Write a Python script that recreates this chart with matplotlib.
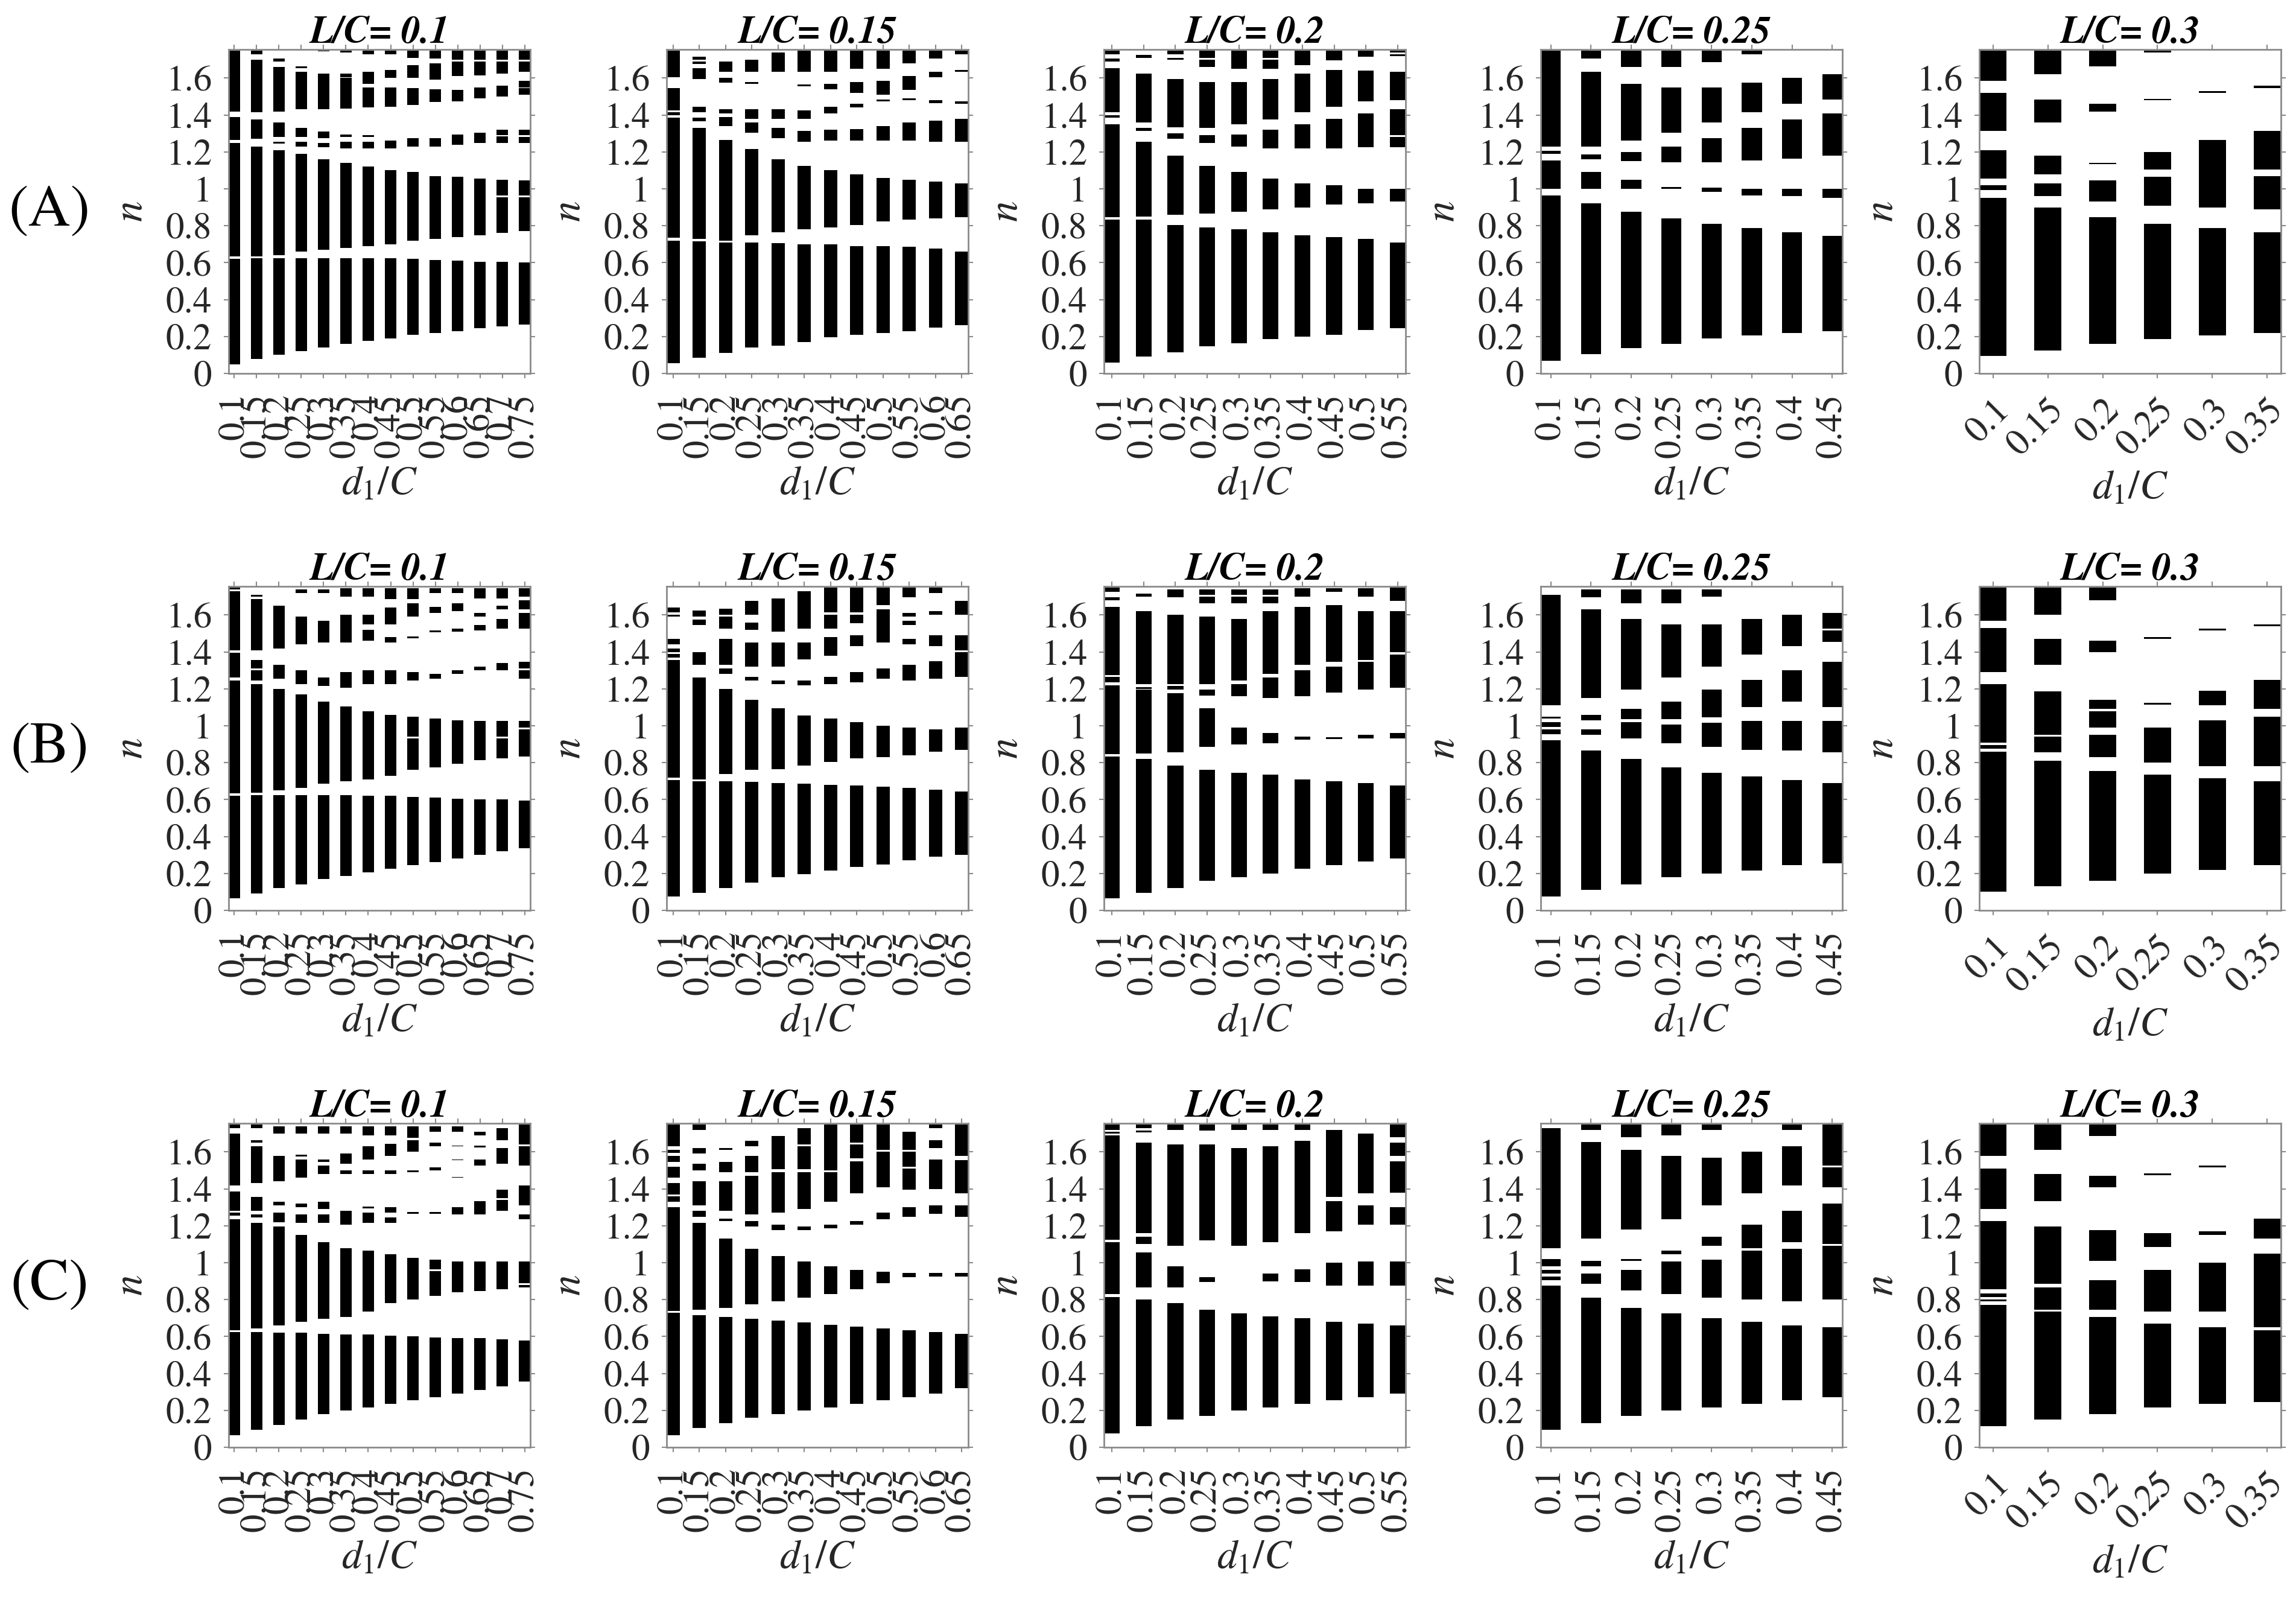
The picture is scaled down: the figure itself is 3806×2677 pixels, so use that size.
import numpy as np
import matplotlib.pyplot as plt

plt.rcParams['font.family'] = ['STIXGeneral', 'Liberation Serif', 'DejaVu Serif']
plt.rcParams['mathtext.fontset'] = 'stix'

# d1/C values used on the x axis of each column (L/C = 0.1 ... 0.3)
d_lc01 = [0.1, 0.15, 0.2, 0.25, 0.3, 0.35, 0.4, 0.45, 0.5, 0.55, 0.6, 0.65, 0.7, 0.75]
d_lc015 = [0.1, 0.15, 0.2, 0.25, 0.3, 0.35, 0.4, 0.45, 0.5, 0.55, 0.6, 0.65]
d_lc02 = [0.1, 0.15, 0.2, 0.25, 0.3, 0.35, 0.4, 0.45, 0.5, 0.55]
d_lc025 = [0.1, 0.15, 0.2, 0.25, 0.3, 0.35, 0.4, 0.45]
d_lc03 = [0.1, 0.15, 0.2, 0.25, 0.3, 0.35]
lc_labels = ['0.1', '0.15', '0.2', '0.25', '0.3']
row_labels = ['(A)', '(B)', '(C)']

# black bands (n_low, n_high) for every d1/C value, one list per panel
A1 = [
    [(0.05, 0.62), (0.635, 1.25), (1.265, 1.39), (1.42, 1.75)],
    [(0.08, 0.625), (0.635, 1.23), (1.27, 1.375), (1.415, 1.70), (1.73, 1.75)],
    [(0.10, 0.625), (0.64, 1.21), (1.245, 1.255), (1.28, 1.36), (1.42, 1.66), (1.69, 1.705)],
    [(0.12, 0.625), (0.66, 1.19), (1.23, 1.255), (1.28, 1.33), (1.43, 1.635), (1.655, 1.665)],
    [(0.14, 0.625), (0.67, 1.16), (1.225, 1.25), (1.275, 1.31), (1.43, 1.625), (1.745, 1.75)],
    [(0.16, 0.625), (0.68, 1.14), (1.22, 1.255), (1.28, 1.295), (1.435, 1.60), (1.605, 1.625), (1.74, 1.75)],
    [(0.175, 0.625), (0.69, 1.12), (1.22, 1.255), (1.28, 1.29), (1.44, 1.55), (1.57, 1.635), (1.73, 1.75)],
    [(0.19, 0.625), (0.70, 1.10), (1.22, 1.26), (1.445, 1.55), (1.60, 1.645), (1.73, 1.75)],
    [(0.21, 0.62), (0.72, 1.09), (1.23, 1.275), (1.455, 1.545), (1.60, 1.67), (1.71, 1.75)],
    [(0.22, 0.615), (0.73, 1.07), (1.23, 1.275), (1.47, 1.54), (1.59, 1.68), (1.705, 1.75)],
    [(0.23, 0.61), (0.74, 1.065), (1.24, 1.295), (1.475, 1.535), (1.61, 1.69), (1.70, 1.75)],
    [(0.245, 0.605), (0.75, 1.055), (1.25, 1.305), (1.49, 1.55), (1.615, 1.69), (1.70, 1.75)],
    [(0.255, 0.605), (0.76, 0.955), (0.965, 1.05), (1.25, 1.285), (1.29, 1.32), (1.50, 1.56), (1.625, 1.69), (1.70, 1.75)],
    [(0.265, 0.60), (0.77, 0.955), (0.965, 1.045), (1.25, 1.28), (1.29, 1.32), (1.51, 1.545), (1.55, 1.585), (1.635, 1.69), (1.70, 1.75)],
]
A2 = [
    [(0.055, 0.72), (0.735, 1.385), (1.40, 1.415), (1.425, 1.545), (1.605, 1.75)],
    [(0.085, 0.715), (0.73, 1.33), (1.365, 1.385), (1.415, 1.445), (1.595, 1.655), (1.675, 1.69), (1.70, 1.715)],
    [(0.11, 0.71), (0.72, 1.265), (1.34, 1.39), (1.41, 1.43), (1.575, 1.60), (1.635, 1.69)],
    [(0.14, 0.71), (0.75, 1.215), (1.305, 1.36), (1.38, 1.43), (1.57, 1.58), (1.635, 1.70)],
    [(0.15, 0.705), (0.765, 1.16), (1.275, 1.33), (1.38, 1.43), (1.635, 1.74)],
    [(0.17, 0.70), (0.78, 1.125), (1.255, 1.315), (1.38, 1.425), (1.555, 1.565), (1.635, 1.75)],
    [(0.195, 0.70), (0.79, 1.10), (1.26, 1.32), (1.41, 1.445), (1.54, 1.57), (1.635, 1.75)],
    [(0.21, 0.69), (0.805, 1.08), (1.26, 1.325), (1.44, 1.46), (1.52, 1.58), (1.65, 1.75)],
    [(0.22, 0.69), (0.825, 1.06), (1.26, 1.34), (1.475, 1.485), (1.51, 1.585), (1.65, 1.75)],
    [(0.23, 0.685), (0.835, 1.05), (1.26, 1.36), (1.48, 1.49), (1.535, 1.61), (1.68, 1.75)],
    [(0.25, 0.675), (0.84, 1.04), (1.255, 1.37), (1.465, 1.48), (1.605, 1.635), (1.705, 1.75)],
    [(0.26, 0.66), (0.845, 1.03), (1.255, 1.38), (1.46, 1.475), (1.635, 1.645), (1.73, 1.75)],
]
A3 = [
    [(0.06, 0.835), (0.845, 1.35), (1.385, 1.40), (1.415, 1.655), (1.69, 1.705), (1.73, 1.75)],
    [(0.09, 0.835), (0.85, 1.255), (1.315, 1.33), (1.36, 1.625), (1.71, 1.725)],
    [(0.113, 0.805), (0.86, 1.18), (1.27, 1.30), (1.335, 1.595), (1.70, 1.71), (1.73, 1.75)],
    [(0.147, 0.79), (0.865, 1.125), (1.25, 1.29), (1.33, 1.58), (1.66, 1.70), (1.71, 1.75)],
    [(0.165, 0.78), (0.875, 1.09), (1.23, 1.295), (1.35, 1.58), (1.65, 1.75)],
    [(0.185, 0.765), (0.89, 1.055), (1.22, 1.32), (1.375, 1.595), (1.65, 1.70), (1.71, 1.75)],
    [(0.20, 0.75), (0.90, 1.03), (1.22, 1.35), (1.415, 1.625), (1.67, 1.75)],
    [(0.21, 0.74), (0.915, 1.02), (1.22, 1.38), (1.445, 1.645), (1.695, 1.75)],
    [(0.235, 0.73), (0.92, 1.0), (1.225, 1.41), (1.475, 1.64), (1.715, 1.75)],
    [(0.245, 0.71), (0.93, 1.0), (1.225, 1.28), (1.29, 1.43), (1.48, 1.635), (1.72, 1.73), (1.74, 1.75)],
]
A4 = [
    [(0.07, 0.965), (1.0, 1.155), (1.19, 1.205), (1.23, 1.75)],
    [(0.105, 0.92), (1.0, 1.09), (1.16, 1.185), (1.23, 1.635), (1.705, 1.75)],
    [(0.137, 0.877), (1.0, 1.05), (1.15, 1.20), (1.26, 1.57), (1.66, 1.75)],
    [(0.16, 0.84), (1.0, 1.01), (1.145, 1.23), (1.305, 1.55), (1.66, 1.75)],
    [(0.19, 0.81), (0.985, 1.005), (1.145, 1.275), (1.36, 1.55), (1.685, 1.75)],
    [(0.205, 0.787), (0.965, 1.0), (1.155, 1.33), (1.415, 1.575), (1.73, 1.75)],
    [(0.22, 0.765), (0.96, 1.0), (1.165, 1.375), (1.46, 1.60)],
    [(0.23, 0.745), (0.95, 1.0), (1.18, 1.41), (1.485, 1.62)],
]
A5 = [
    [(0.095, 0.95), (0.995, 1.02), (1.055, 1.21), (1.315, 1.52), (1.585, 1.75)],
    [(0.125, 0.90), (0.96, 1.03), (1.08, 1.18), (1.36, 1.485), (1.62, 1.75)],
    [(0.16, 0.847), (0.93, 1.045), (1.135, 1.142), (1.42, 1.46), (1.665, 1.75)],
    [(0.185, 0.81), (0.91, 1.065), (1.105, 1.20), (1.482, 1.488), (1.74, 1.75)],
    [(0.205, 0.787), (0.90, 1.265), (1.52, 1.53)],
    [(0.22, 0.765), (0.89, 1.07), (1.105, 1.315), (1.545, 1.56)],
]

B1 = [
    [(0.065, 0.62), (0.635, 1.245), (1.26, 1.395), (1.41, 1.73), (1.74, 1.75)],
    [(0.09, 0.625), (0.636, 1.225), (1.245, 1.30), (1.31, 1.355), (1.41, 1.685), (1.70, 1.71)],
    [(0.12, 0.625), (0.65, 1.20), (1.255, 1.33), (1.42, 1.65)],
    [(0.14, 0.625), (0.665, 1.17), (1.225, 1.30), (1.44, 1.59), (1.72, 1.74)],
    [(0.17, 0.625), (0.685, 1.13), (1.215, 1.26), (1.45, 1.57), (1.72, 1.74)],
    [(0.185, 0.625), (0.70, 1.105), (1.205, 1.29), (1.45, 1.60), (1.70, 1.745)],
    [(0.205, 0.62), (0.71, 1.08), (1.225, 1.30), (1.46, 1.52), (1.55, 1.60), (1.70, 1.745)],
    [(0.225, 0.62), (0.73, 1.06), (1.225, 1.30), (1.45, 1.48), (1.55, 1.64), (1.685, 1.745)],
    [(0.245, 0.615), (0.76, 0.93), (0.94, 1.05), (1.245, 1.29), (1.475, 1.485), (1.59, 1.665), (1.685, 1.745)],
    [(0.26, 0.61), (0.775, 1.04), (1.255, 1.28), (1.505, 1.515), (1.61, 1.645), (1.72, 1.745)],
    [(0.28, 0.605), (0.795, 1.03), (1.28, 1.30), (1.51, 1.525), (1.62, 1.665), (1.72, 1.745)],
    [(0.30, 0.60), (0.815, 1.025), (1.30, 1.32), (1.515, 1.545), (1.59, 1.61), (1.69, 1.745)],
    [(0.32, 0.60), (0.825, 0.93), (0.94, 1.025), (1.30, 1.34), (1.525, 1.58), (1.63, 1.65), (1.69, 1.745)],
    [(0.335, 0.595), (0.835, 0.98), (0.99, 1.025), (1.255, 1.30), (1.31, 1.345), (1.525, 1.61), (1.63, 1.68), (1.70, 1.745)],
]
B2 = [
    [(0.075, 0.705), (0.72, 1.355), (1.37, 1.39), (1.40, 1.42), (1.44, 1.47), (1.59, 1.60), (1.615, 1.64)],
    [(0.095, 0.70), (0.71, 1.26), (1.33, 1.40), (1.545, 1.575), (1.59, 1.625)],
    [(0.12, 0.70), (0.74, 1.20), (1.28, 1.31), (1.33, 1.47), (1.525, 1.59), (1.60, 1.635)],
    [(0.15, 0.695), (0.76, 1.14), (1.245, 1.265), (1.32, 1.45), (1.52, 1.56), (1.60, 1.675)],
    [(0.18, 0.69), (0.765, 1.095), (1.225, 1.245), (1.32, 1.45), (1.51, 1.69)],
    [(0.195, 0.685), (0.785, 1.055), (1.22, 1.245), (1.36, 1.45), (1.525, 1.73)],
    [(0.215, 0.68), (0.805, 1.04), (1.225, 1.265), (1.38, 1.48), (1.525, 1.60), (1.615, 1.75)],
    [(0.235, 0.675), (0.825, 1.02), (1.235, 1.29), (1.43, 1.49), (1.555, 1.60), (1.615, 1.75)],
    [(0.25, 0.67), (0.83, 1.0), (1.255, 1.31), (1.45, 1.63), (1.655, 1.75)],
    [(0.27, 0.665), (0.84, 0.99), (1.245, 1.33), (1.44, 1.47), (1.545, 1.57), (1.59, 1.61), (1.695, 1.75)],
    [(0.29, 0.655), (0.86, 0.98), (1.255, 1.35), (1.43, 1.49), (1.60, 1.62), (1.72, 1.75)],
    [(0.30, 0.645), (0.87, 0.99), (1.265, 1.40), (1.41, 1.49), (1.60, 1.675)],
]
B3 = [
    [(0.065, 0.835), (0.845, 1.22), (1.235, 1.265), (1.275, 1.645), (1.68, 1.695), (1.725, 1.75)],
    [(0.095, 0.82), (0.85, 1.195), (1.20, 1.21), (1.225, 1.62), (1.70, 1.715)],
    [(0.12, 0.785), (0.855, 1.175), (1.195, 1.215), (1.225, 1.60), (1.695, 1.74)],
    [(0.16, 0.76), (0.885, 1.095), (1.165, 1.195), (1.225, 1.59), (1.665, 1.70), (1.71, 1.74)],
    [(0.18, 0.745), (0.90, 0.99), (1.16, 1.225), (1.245, 1.58), (1.665, 1.70), (1.71, 1.74)],
    [(0.20, 0.735), (0.905, 0.96), (1.15, 1.26), (1.28, 1.62), (1.665, 1.70), (1.71, 1.74)],
    [(0.225, 0.71), (0.925, 0.94), (1.16, 1.30), (1.33, 1.645), (1.70, 1.745)],
    [(0.245, 0.70), (0.928, 0.937), (1.18, 1.32), (1.345, 1.655), (1.725, 1.745)],
    [(0.265, 0.69), (0.93, 0.95), (1.195, 1.345), (1.355, 1.62), (1.70, 1.745)],
    [(0.28, 0.675), (0.93, 0.96), (1.205, 1.385), (1.40, 1.62), (1.675, 1.75)],
]
B4 = [
    [(0.075, 0.92), (0.955, 0.98), (0.995, 1.02), (1.04, 1.05), (1.11, 1.71)],
    [(0.11, 0.865), (0.95, 0.98), (1.03, 1.06), (1.15, 1.63), (1.695, 1.74)],
    [(0.14, 0.82), (0.93, 1.02), (1.035, 1.09), (1.195, 1.58), (1.665, 1.74)],
    [(0.18, 0.775), (0.905, 1.005), (1.035, 1.13), (1.26, 1.55), (1.665, 1.74)],
    [(0.20, 0.745), (0.885, 1.015), (1.045, 1.195), (1.32, 1.55), (1.70, 1.74)],
    [(0.215, 0.725), (0.87, 1.025), (1.10, 1.25), (1.385, 1.58)],
    [(0.245, 0.705), (0.865, 1.025), (1.13, 1.30), (1.43, 1.60)],
    [(0.255, 0.69), (0.855, 1.025), (1.10, 1.345), (1.455, 1.515), (1.525, 1.61)],
]
B5 = [
    [(0.10, 0.86), (0.875, 0.895), (0.91, 1.225), (1.29, 1.53), (1.57, 1.75)],
    [(0.13, 0.81), (0.855, 0.94), (0.95, 1.185), (1.33, 1.47), (1.60, 1.75)],
    [(0.16, 0.755), (0.83, 0.95), (0.99, 1.08), (1.09, 1.14), (1.40, 1.46), (1.68, 1.75)],
    [(0.20, 0.735), (0.80, 0.99), (1.115, 1.125), (1.47, 1.48)],
    [(0.22, 0.715), (0.78, 1.03), (1.11, 1.19), (1.515, 1.525)],
    [(0.245, 0.70), (0.78, 1.05), (1.09, 1.25), (1.54, 1.55)],
]

C1 = [
    [(0.065, 0.625), (0.635, 1.235), (1.255, 1.27), (1.28, 1.385), (1.42, 1.70), (1.73, 1.75)],
    [(0.095, 0.625), (0.645, 1.215), (1.245, 1.26), (1.28, 1.355), (1.43, 1.63), (1.65, 1.665), (1.73, 1.75)],
    [(0.12, 0.62), (0.66, 1.195), (1.22, 1.27), (1.31, 1.33), (1.44, 1.58), (1.70, 1.74)],
    [(0.15, 0.62), (0.68, 1.15), (1.215, 1.26), (1.30, 1.32), (1.46, 1.56), (1.575, 1.585), (1.70, 1.74)],
    [(0.18, 0.615), (0.695, 1.11), (1.215, 1.26), (1.29, 1.33), (1.48, 1.525), (1.545, 1.56), (1.70, 1.74)],
    [(0.20, 0.61), (0.705, 1.08), (1.205, 1.28), (1.48, 1.50), (1.535, 1.59), (1.70, 1.74)],
    [(0.215, 0.61), (0.735, 1.065), (1.215, 1.27), (1.295, 1.305), (1.48, 1.50), (1.56, 1.63), (1.69, 1.74)],
    [(0.235, 0.605), (0.78, 1.045), (1.215, 1.245), (1.27, 1.30), (1.48, 1.50), (1.58, 1.645), (1.69, 1.74)],
    [(0.255, 0.60), (0.80, 1.025), (1.265, 1.275), (1.49, 1.50), (1.60, 1.665), (1.675, 1.74)],
    [(0.27, 0.595), (0.82, 0.955), (0.965, 1.015), (1.265, 1.275), (1.50, 1.515), (1.63, 1.65), (1.71, 1.74)],
    [(0.29, 0.59), (0.84, 1.005), (1.26, 1.30), (1.46, 1.465), (1.555, 1.56), (1.63, 1.635), (1.71, 1.74)],
    [(0.31, 0.59), (0.845, 1.005), (1.26, 1.335), (1.525, 1.56), (1.625, 1.635), (1.69, 1.71)],
    [(0.33, 0.585), (0.855, 1.005), (1.28, 1.34), (1.35, 1.395), (1.535, 1.62), (1.665, 1.73)],
    [(0.355, 0.58), (0.865, 0.88), (0.89, 1.005), (1.235, 1.26), (1.31, 1.42), (1.525, 1.63), (1.64, 1.75)],
]
C2 = [
    [(0.065, 0.73), (0.74, 1.30), (1.33, 1.36), (1.37, 1.43), (1.46, 1.52), (1.545, 1.58), (1.595, 1.61), (1.63, 1.75)],
    [(0.105, 0.715), (0.745, 1.215), (1.25, 1.28), (1.31, 1.44), (1.50, 1.535), (1.59, 1.62), (1.72, 1.75)],
    [(0.13, 0.705), (0.755, 1.13), (1.225, 1.24), (1.28, 1.44), (1.49, 1.545), (1.612, 1.62)],
    [(0.16, 0.695), (0.775, 1.075), (1.195, 1.225), (1.26, 1.47), (1.49, 1.58), (1.63, 1.66)],
    [(0.18, 0.685), (0.79, 1.035), (1.175, 1.205), (1.27, 1.49), (1.505, 1.685)],
    [(0.20, 0.675), (0.81, 1.005), (1.175, 1.195), (1.29, 1.49), (1.505, 1.63), (1.64, 1.73)],
    [(0.215, 0.665), (0.83, 0.98), (1.185, 1.205), (1.33, 1.49), (1.50, 1.75)],
    [(0.235, 0.655), (0.855, 0.96), (1.205, 1.225), (1.375, 1.55), (1.565, 1.64), (1.65, 1.75)],
    [(0.255, 0.645), (0.89, 0.95), (1.235, 1.27), (1.41, 1.60), (1.61, 1.75)],
    [(0.27, 0.635), (0.92, 0.945), (1.25, 1.30), (1.395, 1.51), (1.52, 1.60), (1.61, 1.71)],
    [(0.29, 0.625), (0.925, 0.945), (1.265, 1.31), (1.40, 1.56), (1.62, 1.665), (1.73, 1.75)],
    [(0.32, 0.615), (0.925, 0.945), (1.25, 1.31), (1.375, 1.555), (1.58, 1.75)],
]
C3 = [
    [(0.075, 0.815), (0.83, 1.11), (1.125, 1.69), (1.70, 1.71), (1.72, 1.75)],
    [(0.115, 0.80), (0.865, 1.055), (1.10, 1.14), (1.16, 1.65), (1.705, 1.715), (1.73, 1.75)],
    [(0.15, 0.78), (0.865, 0.98), (1.09, 1.64), (1.72, 1.75)],
    [(0.17, 0.745), (0.895, 0.92), (1.12, 1.64), (1.715, 1.75)],
    [(0.20, 0.725), (1.09, 1.62), (1.72, 1.75)],
    [(0.215, 0.71), (0.90, 0.94), (1.11, 1.63), (1.72, 1.75)],
    [(0.235, 0.70), (0.895, 0.965), (1.16, 1.66), (1.72, 1.75)],
    [(0.255, 0.68), (0.875, 1.0), (1.17, 1.335), (1.355, 1.72)],
    [(0.27, 0.67), (0.875, 1.005), (1.205, 1.31), (1.375, 1.70)],
    [(0.29, 0.66), (0.875, 1.005), (1.205, 1.30), (1.38, 1.55), (1.58, 1.65), (1.68, 1.75)],
]
C4 = [
    [(0.095, 0.875), (0.905, 0.925), (0.94, 0.96), (0.98, 1.02), (1.08, 1.73)],
    [(0.13, 0.81), (0.885, 0.94), (0.98, 1.01), (1.13, 1.655), (1.72, 1.75)],
    [(0.17, 0.755), (0.85, 0.96), (1.01, 1.02), (1.18, 1.61), (1.68, 1.75)],
    [(0.20, 0.725), (0.83, 1.005), (1.045, 1.065), (1.235, 1.58), (1.69, 1.75)],
    [(0.215, 0.70), (0.81, 1.015), (1.09, 1.14), (1.31, 1.57), (1.72, 1.75)],
    [(0.235, 0.68), (0.80, 1.065), (1.08, 1.205), (1.375, 1.60)],
    [(0.255, 0.66), (0.79, 1.075), (1.11, 1.28), (1.42, 1.63), (1.72, 1.75)],
    [(0.27, 0.65), (0.80, 1.09), (1.10, 1.32), (1.41, 1.515), (1.525, 1.75)],
]
C5 = [
    [(0.115, 0.77), (0.79, 0.80), (0.815, 0.835), (0.855, 1.225), (1.29, 1.51), (1.58, 1.75)],
    [(0.15, 0.735), (0.745, 0.865), (0.885, 1.195), (1.335, 1.48), (1.61, 1.75)],
    [(0.18, 0.705), (0.745, 0.905), (1.01, 1.175), (1.41, 1.47), (1.685, 1.75)],
    [(0.215, 0.67), (0.735, 0.96), (1.085, 1.16), (1.475, 1.485)],
    [(0.235, 0.65), (0.735, 1.0), (1.15, 1.17), (1.515, 1.525)],
    [(0.245, 0.635), (0.65, 1.05), (1.13, 1.24)],
]

d_cols = [d_lc01, d_lc015, d_lc02, d_lc025, d_lc03]
panels = [[A1, A2, A3, A4, A5], [B1, B2, B3, B4, B5], [C1, C2, C3, C4, C5]]

W, H = 3806, 2677
fig = plt.figure(figsize=(W / 100, H / 100), dpi=100)

lefts = [379, 1105, 1830, 2554, 3281]
tops = [82, 972, 1862]
ax_w, ax_h = 500, 537
frame = '#8a8a8a'
txt = '#262626'

for r in range(3):
    for c in range(5):
        ax = fig.add_axes([lefts[c] / W, 1 - (tops[r] + ax_h) / H, ax_w / W, ax_h / H])
        d = d_cols[c]
        xs, bots, hts = [], [], []
        for x, bands in zip(d, panels[r][c]):
            for lo, hi in bands:
                xs.append(x)
                bots.append(lo)
                hts.append(hi - lo)
        ax.bar(xs, hts, bottom=bots, width=0.025, color='black', linewidth=0)
        ax.set_xlim(d[0] - 0.0125, d[-1] + 0.0125)
        ax.set_ylim(0, 1.755)
        ax.set_yticks(np.arange(0, 1.61, 0.2))
        ax.set_yticklabels(['%g' % round(v, 1) for v in np.arange(0, 1.61, 0.2)])
        ax.set_xticks(d)
        if c == 4:
            ax.set_xticklabels(['%g' % v for v in d], rotation=45, ha='right',
                               rotation_mode='anchor')
        else:
            ax.set_xticklabels(['%g' % v for v in d], rotation=90)
        ax.tick_params(direction='out', length=6, width=1.5, color=frame,
                       labelsize=44, labelcolor=txt, top=True, right=True)
        ax.tick_params(axis='x', pad=18)
        ax.tick_params(axis='y', pad=14)
        for s in ax.spines.values():
            s.set_color(frame)
            s.set_linewidth(2)
        ax.set_title('L/C= ' + lc_labels[c], fontsize=46, fontweight='bold',
                     style='italic', pad=8)
        ax.set_xlabel(r'$d_1/C$', fontsize=48, color=txt, labelpad=10)
        ax.set_ylabel(r'$n$', fontsize=50, color=txt, labelpad=18)
    fig.text(82 / W, 1 - (tops[r] + ax_h / 2) / H, row_labels[r], fontsize=70,
             ha='center', va='center')

fig.savefig('out.png', dpi=100)
